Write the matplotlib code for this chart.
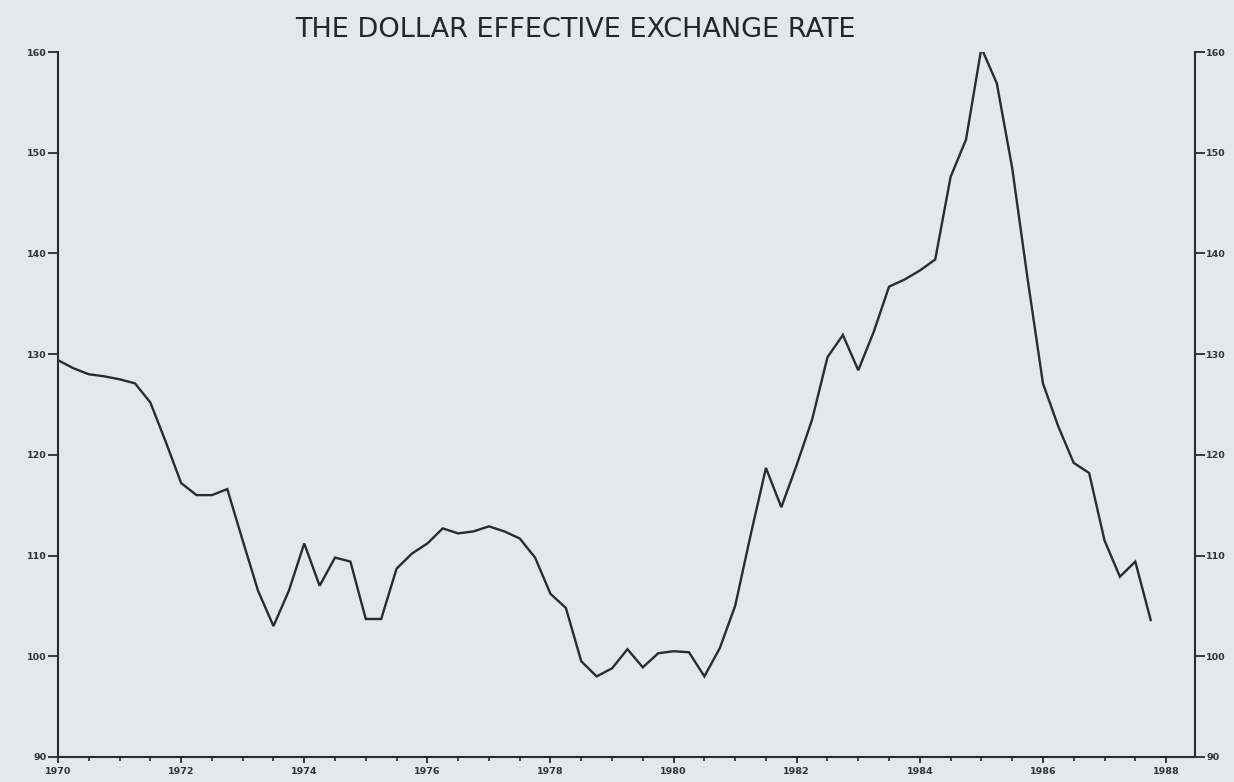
import numpy as np
import matplotlib
matplotlib.use("Agg")
import matplotlib.pyplot as plt
from matplotlib.ticker import MultipleLocator

# quarterly index, 1970Q1 .. 1987Q4
start_year = 1970.0
rate = [
    129.4, 128.6, 128.0, 127.8, 127.5, 127.1, 125.2, 121.3,   # 1970-71
    117.2, 116.0, 116.0, 116.6, 111.5, 106.5, 103.0, 106.5,   # 1972-73
    111.2, 107.0, 109.8, 109.4, 103.7, 103.7, 108.7, 110.2,   # 1974-75
    111.2, 112.7, 112.2, 112.4, 112.9, 112.4, 111.7, 109.8,   # 1976-77
    106.2, 104.8, 99.5, 98.0, 98.8, 100.7, 98.9, 100.3,       # 1978-79
    100.5, 100.4, 98.0, 100.8, 105.0, 112.0, 118.7, 114.8,    # 1980-81
    119.0, 123.5, 129.7, 131.9, 128.4, 132.2, 136.7, 137.4,   # 1982-83
    138.3, 139.4, 147.6, 151.3, 160.4, 156.9, 148.5, 137.5,   # 1984-85
    127.1, 122.8, 119.2, 118.2, 111.5, 107.9, 109.4, 103.6,   # 1986-87
]
year_ticks = [1970, 1972, 1974, 1976, 1978, 1980, 1982, 1984, 1986, 1988]
y_ticks = [90, 100, 110, 120, 130, 140, 150, 160]

dates = start_year + 0.25 * np.arange(len(rate))

bg = "#e4e8ea"
ink = "#2b2b2b"

fig = plt.figure(figsize=(12.34, 7.82), dpi=100, facecolor=bg)
ax = fig.add_axes([0.047, 0.032, 0.9214, 0.9015])
ax.set_facecolor(bg)

ax.plot(dates, rate, color=ink, lw=1.7, solid_joinstyle="miter")

ax.set_xlim(1970.0, 1988.47)
ax.set_ylim(90, 160)

for s in ["left", "right", "bottom"]:
    ax.spines[s].set_color(ink)
    ax.spines[s].set_linewidth(1.5)
ax.spines["top"].set_visible(False)

tick_font = dict(fontsize=6.8, fontweight="bold", color="#333333")

ax.set_yticks(y_ticks)
ax.set_yticklabels([str(v) for v in y_ticks], **tick_font)
ax.tick_params(axis="y", which="both", direction="out", length=7, width=1.3,
               color=ink, pad=1, left=True, right=True, labelleft=True, labelright=True)

ax.set_xticks(year_ticks)
ax.set_xticklabels([str(v) for v in year_ticks], **tick_font)
ax.xaxis.set_minor_locator(MultipleLocator(0.5))
ax.tick_params(axis="x", which="major", direction="out", length=4, width=1.3,
               color=ink, pad=3)
ax.tick_params(axis="x", which="minor", direction="out", length=3, width=1.2,
               color=ink)

fig.text(0.466, 0.962, "THE DOLLAR EFFECTIVE EXCHANGE RATE", ha="center", va="center",
         fontsize=19.5, color="#262626")

fig.savefig("out.png", dpi=100, facecolor=bg)
